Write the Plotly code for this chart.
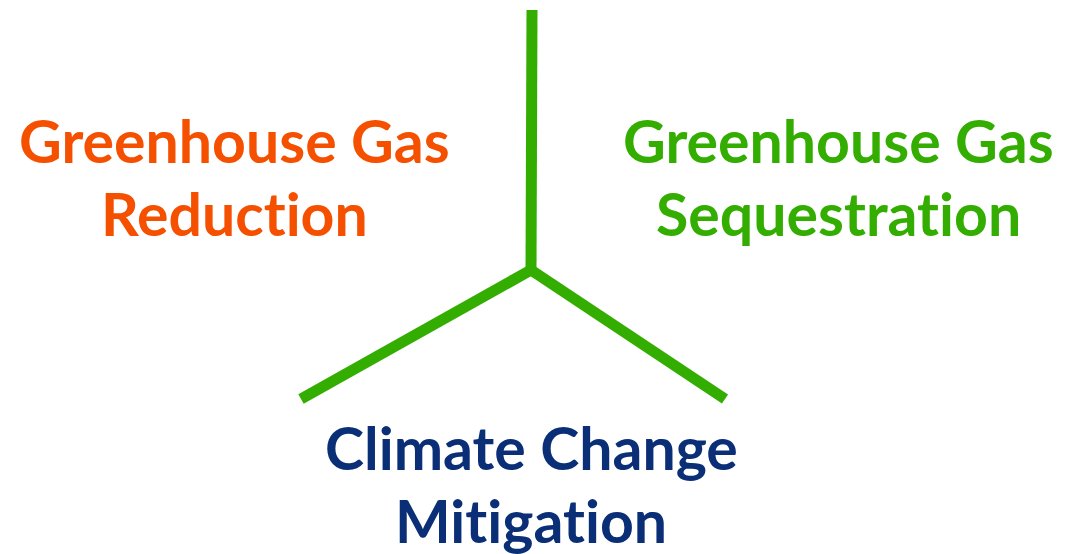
import plotly.graph_objects as go

# Y-shaped divider: three arms meeting at a hub (pixel-like coordinates)
hub = (531, 270)
arm_ends_x = [532, 301, 725]
arm_ends_y = [10, 399, 399]

# Labels: each line of text with its centre position
ZWNJ = "\u200c"  # breaks the 'ti' ligature
label_lines = [
    ["Greenhouse Gas", "Reduction"],
    ["Greenhouse Gas", "Sequestration"],
    ["Climate Change", "Mitigation"],
]
label_x = [234, 838, 531]
label_y = [[140, 213], [140, 213], [447, 520]]
label_colors = ["#F55000", "#33AD00", "#0B2F77"]

line_color = "#33AD00"

fig = go.Figure()
for ex, ey in zip(arm_ends_x, arm_ends_y):
    fig.add_trace(go.Scatter(
        x=[hub[0], ex], y=[hub[1], ey], mode="lines",
        line=dict(color=line_color, width=11),
        hoverinfo="skip", showlegend=False,
    ))

for lines, lx, lys, col in zip(label_lines, label_x, label_y, label_colors):
    for txt, ly in zip(lines, lys):
        txt = txt.replace("ti", "t" + ZWNJ + "i")
        fig.add_annotation(
            x=lx, y=ly, text=f"<b>{txt}</b>", showarrow=False,
            xanchor="center", yanchor="middle",
            font=dict(family="Lato", size=59, color=col),
        )

# page body has an 8px margin: shift ranges so data units equal window pixels
fig.update_xaxes(range=[8, 1068], visible=False, fixedrange=True)
fig.update_yaxes(range=[554, 8], visible=False, fixedrange=True)
fig.update_layout(
    width=1060, height=546,
    margin=dict(l=0, r=0, t=0, b=0),
    paper_bgcolor="white", plot_bgcolor="white",
)
fig.write_html("out.html")
